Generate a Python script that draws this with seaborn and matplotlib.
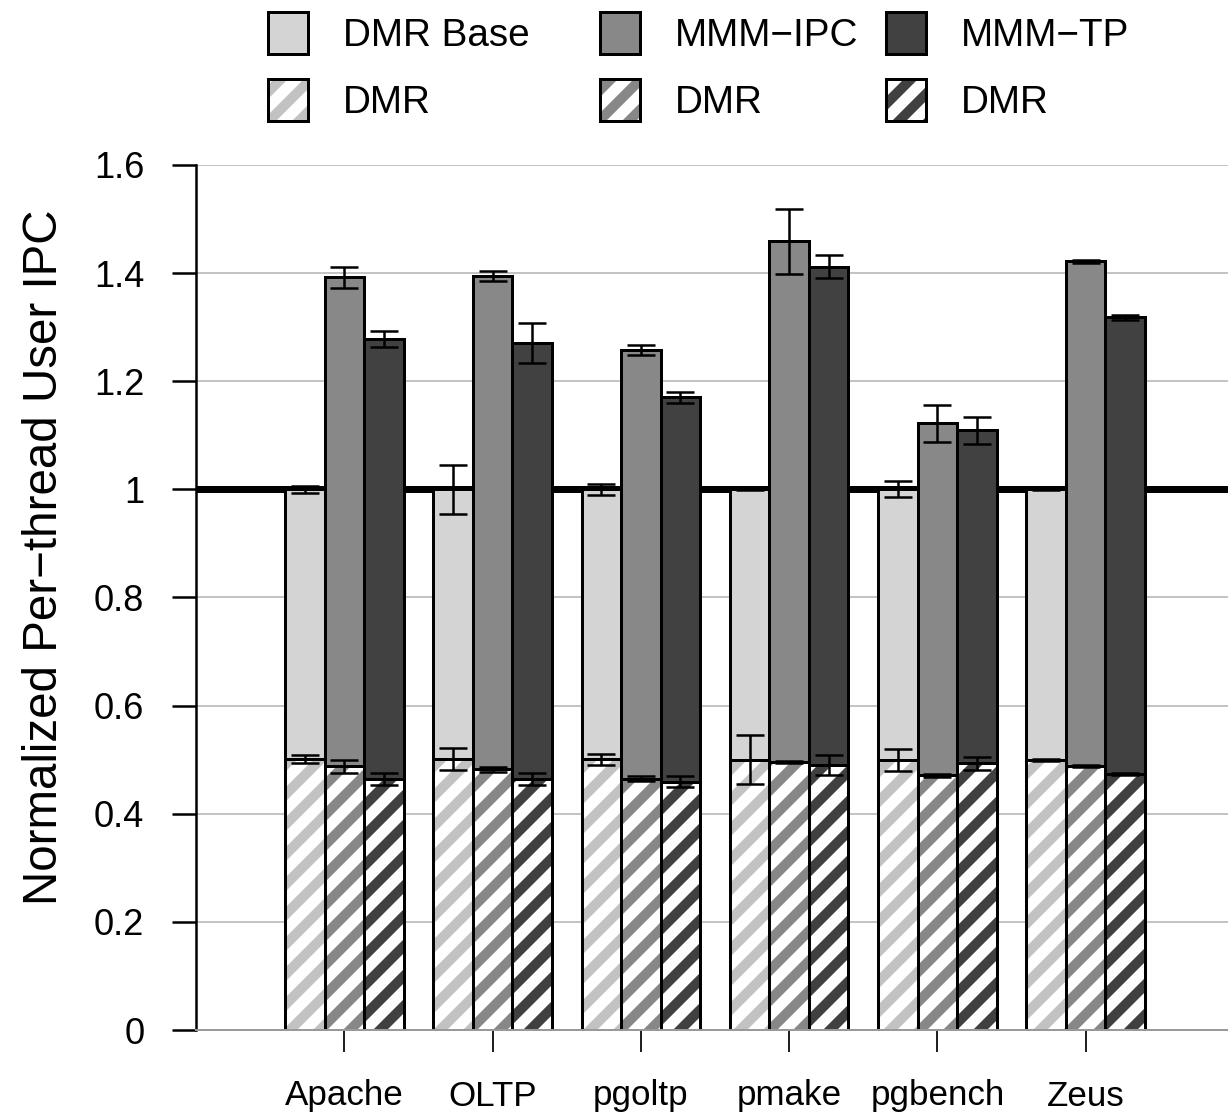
import numpy as np
import pandas as pd
import seaborn as sns
import matplotlib.pyplot as plt
from matplotlib.patches import Patch
from matplotlib.ticker import FuncFormatter

# values
benchmarks = ["Apache", "OLTP", "pgoltp", "pmake", "pgbench", "Zeus"]
configs = ["DMR Base", "MMM\u2212IPC", "MMM\u2212TP"]

# full bar height (normalized IPC) and error
total_base = [1.0, 1.0, 1.0, 1.0, 1.0, 1.0]
total_base_err = [0.007, 0.045, 0.010, 0.002, 0.015, 0.002]
total_ipc = [1.392, 1.395, 1.258, 1.459, 1.122, 1.422]
total_ipc_err = [0.019, 0.009, 0.009, 0.060, 0.034, 0.003]
total_tp = [1.278, 1.270, 1.170, 1.412, 1.109, 1.318]
total_tp_err = [0.015, 0.037, 0.011, 0.021, 0.025, 0.005]

# hatched DMR part and error
dmr_base = [0.501, 0.501, 0.501, 0.500, 0.500, 0.500]
dmr_base_err = [0.007, 0.020, 0.010, 0.045, 0.020, 0.002]
dmr_ipc = [0.488, 0.482, 0.465, 0.495, 0.471, 0.488]
dmr_ipc_err = [0.012, 0.005, 0.005, 0.002, 0.003, 0.002]
dmr_tp = [0.465, 0.465, 0.459, 0.490, 0.493, 0.474]
dmr_tp_err = [0.011, 0.011, 0.010, 0.019, 0.012, 0.002]

solid_colors = ["#d4d4d4", "#888888", "#414141"]
hatch_colors = ["#c2c2c2", "#878787", "#404040"]

df = pd.DataFrame({
    "bench": benchmarks * 3,
    "config": np.repeat(configs, len(benchmarks)),
    "total": total_base + total_ipc + total_tp,
    "total_err": total_base_err + total_ipc_err + total_tp_err,
    "dmr": dmr_base + dmr_ipc + dmr_tp,
    "dmr_err": dmr_base_err + dmr_ipc_err + dmr_tp_err,
})

DPI = 180
sns.set_theme(style="white")
plt.rcParams["font.family"] = ["Liberation Sans", "DejaVu Sans"]
plt.rcParams["hatch.linewidth"] = 4.0
plt.rcParams["text.color"] = "black"
plt.rcParams["axes.labelcolor"] = "black"
plt.rcParams["xtick.color"] = "black"
plt.rcParams["ytick.color"] = "black"

fig = plt.figure(figsize=(1228 / DPI, 1120 / DPI), dpi=DPI)
ax = fig.add_axes([196 / 1228, 90 / 1120, 1032 / 1228, 865 / 1120])

bar_kw = dict(x="bench", hue="config", hue_order=configs, order=benchmarks,
              width=0.8, gap=0, errorbar=None, saturation=1, legend=False, ax=ax)

# solid full bars
sns.barplot(df, y="total", palette=solid_colors, edgecolor="black", linewidth=1.2, **bar_kw)
# hatched DMR part
sns.barplot(df, y="dmr", palette=hatch_colors, linewidth=0, **bar_kw)
for cont in ax.containers[3:6]:
    for p in cont:
        c = p.get_facecolor()
        p.set_facecolor("white")
        p.set_edgecolor(c)
        p.set_hatch("//")
        p.set_linewidth(0)
# black outline of the DMR part
sns.barplot(df, y="dmr", palette=hatch_colors, fill=False, **bar_kw)
for cont in ax.containers[6:9]:
    for p in cont:
        p.set_facecolor("none")
        p.set_edgecolor("black")
        p.set_linewidth(1.2)

centers = [[p.get_x() + p.get_width() / 2 for p in ax.containers[k]] for k in range(3)]
err_kw = dict(fmt="none", ecolor="black", elinewidth=1.0, capsize=5.4, capthick=1.0, zorder=3)
for k, cfg in enumerate(configs):
    sub = df[df.config == cfg]
    ax.errorbar(centers[k], sub.total, yerr=sub.total_err, **err_kw)
    ax.errorbar(centers[k], sub.dmr, yerr=sub.dmr_err, **err_kw)

ax.axhline(1.0, color="black", lw=2.8, zorder=0.9)

ax.set_xlim(-1.0, 5.96)
ax.set_ylim(0, 1.6)
ax.set_yticks(np.arange(0, 1.61, 0.2))
ax.yaxis.set_major_formatter(FuncFormatter(lambda v, _: f"{v:g}"))
ax.set_axisbelow(True)
ax.yaxis.grid(True, color="#c4c4c4", lw=0.8)
ax.xaxis.grid(False)
ax.tick_params(axis="y", direction="out", length=9.6, width=1.0, pad=11,
               labelsize=14.5, color="black", left=True)
ax.tick_params(axis="x", direction="out", length=8.8, width=0.8, pad=11,
               labelsize=14, color="#222222", bottom=True)
for s in ["top", "right"]:
    ax.spines[s].set_visible(False)
ax.spines["left"].set_color("black")
ax.spines["left"].set_linewidth(1.0)
ax.spines["bottom"].set_color("#999999")
ax.spines["bottom"].set_linewidth(0.8)

ax.set_xlabel("")
ax.set_ylabel("Normalized Per\u2212thread User IPC", fontsize=19)
ax.yaxis.set_label_coords((67 - 196) / 1032, 0.547)

# legend: three columns placed by hand
col_x = [268, 600, 886]
for k in range(3):
    solid = Patch(facecolor=solid_colors[k], edgecolor="black", lw=1.2)
    hatch = (Patch(facecolor="white", edgecolor=hatch_colors[k], hatch="//", lw=0),
             Patch(facecolor="none", edgecolor="black", lw=1.2))
    fig.legend([solid, hatch], [configs[k], "DMR"], loc="upper left",
               bbox_to_anchor=(col_x[k] / 1228, 1 - 12 / 1120), frameon=False,
               fontsize=15.5, handlelength=1.03, handleheight=1.28,
               handletextpad=0.9, labelspacing=0.66, borderpad=0, borderaxespad=0)

fig.savefig("out.png", dpi=DPI)
